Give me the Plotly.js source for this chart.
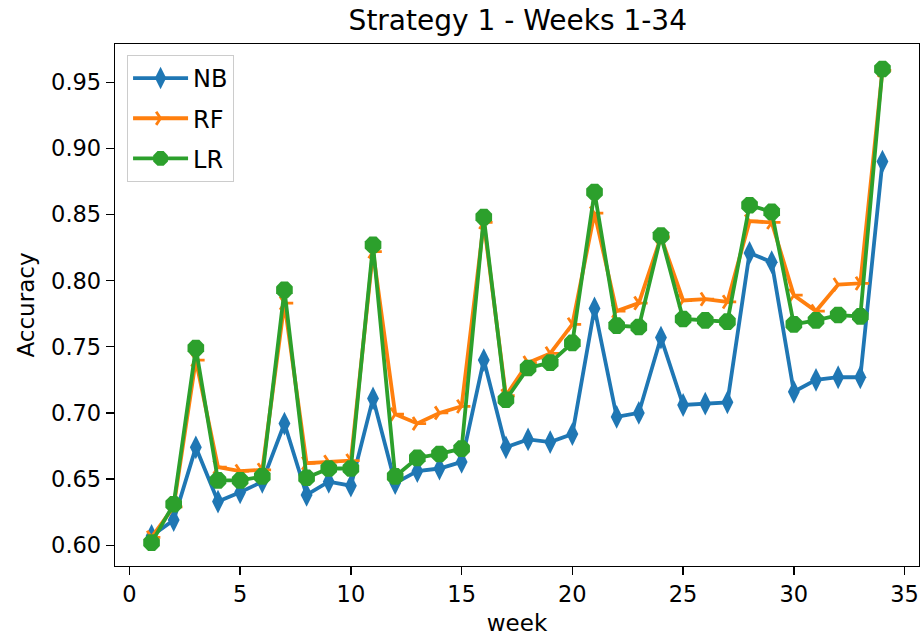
<!DOCTYPE html>
<html>
<head>
<meta charset="utf-8">
<script src="https://cdn.plot.ly/plotly-3.0.1.min.js"></script>
<style>html,body{margin:0;padding:0;background:#fff;}#chart{width:922px;height:640px;}</style>
</head>
<body>
<div id="chart"></div>
<script>
const weeks = [1,2,3,4,5,6,7,8,9,10,11,12,13,14,15,16,17,18,19,20,21,22,23,24,25,26,27,28,29,30,31,32,33,34];
const nb = [0.607,0.619,0.674,0.633,0.640,0.648,0.692,0.638,0.648,0.645,0.711,0.647,0.656,0.658,0.663,0.740,0.674,0.680,0.678,0.684,0.779,0.697,0.700,0.757,0.706,0.707,0.708,0.821,0.814,0.716,0.725,0.727,0.727,0.890];
const rf = [0.606,0.629,0.740,0.659,0.656,0.657,0.783,0.662,0.663,0.664,0.822,0.699,0.692,0.700,0.705,0.844,0.713,0.738,0.745,0.767,0.851,0.777,0.783,0.833,0.785,0.786,0.784,0.845,0.844,0.789,0.777,0.797,0.798,0.959];
const lr = [0.602,0.631,0.749,0.649,0.649,0.652,0.793,0.651,0.658,0.658,0.827,0.652,0.666,0.669,0.673,0.848,0.710,0.734,0.738,0.753,0.867,0.766,0.765,0.834,0.771,0.770,0.769,0.857,0.852,0.767,0.770,0.774,0.773,0.960];
const seriesNames = ["NB","RF","LR"];
const xTicks = [0,5,10,15,20,25,30,35];
const yTicks = [0.60,0.65,0.70,0.75,0.80,0.85,0.90,0.95];

const FONT = "DejaVu Sans, sans-serif";
const traces = [
  {x: weeks, y: nb, name: seriesNames[0], legendgroup: "g1", type: "scatter", mode: "lines+markers",
   line: {color: "#1f77b4", width: 3.8},
   marker: {symbol: "diamond-tall", size: 17, color: "#1f77b4"}},
  {x: weeks, y: rf, name: seriesNames[1], legendgroup: "g2", type: "scatter", mode: "lines+markers",
   line: {color: "#ff7f0e", width: 3.8},
   marker: {symbol: "y-right", size: 11, color: "#ff7f0e", line: {color: "#ff7f0e", width: 2.8}}},
  {x: weeks, y: lr, name: seriesNames[2], legendgroup: "g3", type: "scatter", mode: "lines+markers",
   line: {color: "#2ca02c", width: 3.8},
   marker: {symbol: "octagon", size: 18, color: "#2ca02c"}}
];

const layout = {
  width: 922, height: 640,
  margin: {l: 115, r: 3, t: 44, b: 74},
  paper_bgcolor: "#fff", plot_bgcolor: "#fff",
  font: {family: FONT, color: "#000", size: 22.5},
  title: {text: "Strategy 1 - Weeks 1-34", font: {family: FONT, size: 28, color: "#000"},
          x: 0.5616, xref: "container", xanchor: "center", y: 0.968, yref: "container", yanchor: "middle"},
  showlegend: true,
  legend: {x: 0.015, y: 0.979, xanchor: "left", yanchor: "top",
           bgcolor: "rgba(255,255,255,0.8)", bordercolor: "#cccccc", borderwidth: 1,
           itemwidth: 55, tracegroupgap: 6,
           font: {family: FONT, size: 24, color: "#000"}},
  hovermode: false,
  xaxis: {range: [-0.65, 35.65], tickvals: xTicks, ticks: "outside", ticklen: 8, tickwidth: 1.3,
          tickcolor: "#000", showline: true, linecolor: "#000", linewidth: 1.3, mirror: true,
          showgrid: false, zeroline: false, tickfont: {family: FONT, size: 22.5, color: "#000"},
          title: {text: "week", font: {family: FONT, size: 23, color: "#000"}, standoff: 8}},
  yaxis: {range: [0.5843, 0.9789], tickvals: yTicks, tickformat: ".2f", ticks: "outside", ticklen: 8, tickwidth: 1.3,
          tickcolor: "#000", showline: true, linecolor: "#000", linewidth: 1.3, mirror: true,
          showgrid: false, zeroline: false, tickfont: {family: FONT, size: 22.5, color: "#000"},
          title: {text: "Accuracy", font: {family: FONT, size: 23, color: "#000"}, standoff: 10}}
};

Plotly.newPlot("chart", traces, layout, {staticPlot: true, displayModeBar: false});
</script>
</body>
</html>
